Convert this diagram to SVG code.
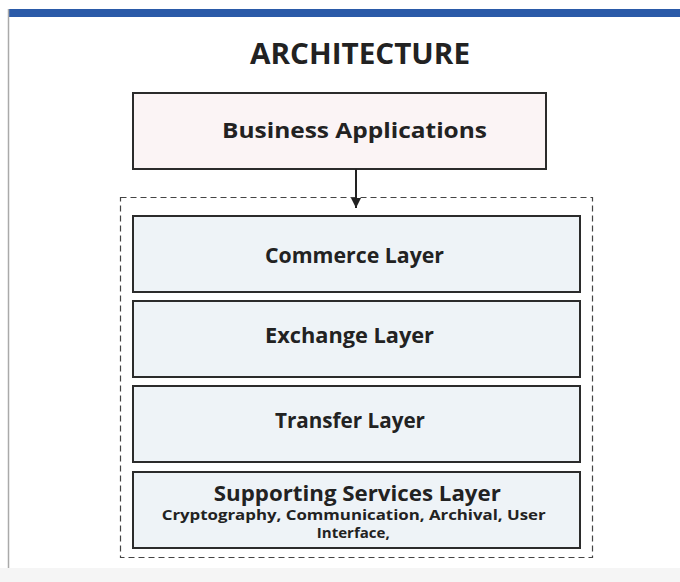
<svg xmlns="http://www.w3.org/2000/svg" width="680" height="582" viewBox="0 0 680 582">
<defs>
<style>
text{font-family:"Open Sans","Noto Sans","DejaVu Sans",sans-serif;font-weight:bold;fill:#222;text-anchor:middle}
.layer{fill:#eef3f7;stroke:#2b2b2b;stroke-width:2}
.title{font-size:28px}
.lbl{font-size:20.5px}
.sub{font-size:14.5px}
</style>
<marker id="ah" viewBox="0 0 10 10" refX="10" refY="5" markerWidth="10" markerHeight="10" markerUnits="userSpaceOnUse" orient="auto">
<path d="M0,0 L10,5 L0,10 z" fill="#222"/>
</marker>
</defs>
<rect x="0" y="0" width="680" height="582" fill="#ffffff"/>
<rect x="0" y="568" width="680" height="14" fill="#f5f5f5"/>
<rect x="8" y="9" width="672" height="8" fill="#2a5aa8"/>
<line x1="8.5" y1="9" x2="8.5" y2="568" stroke="#aaaaaa" stroke-width="1.5"/>
<g id="title"><text class="title" x="360" y="64" textLength="220" lengthAdjust="spacingAndGlyphs">ARCHITECTURE</text></g>
<g id="business">
<rect x="133" y="93" width="413" height="76" fill="#fbf4f5" stroke="#2b2b2b" stroke-width="2"/>
<text class="lbl" x="354.5" y="138" style="font-size:22px" textLength="265" lengthAdjust="spacingAndGlyphs">Business Applications</text>
</g>
<g id="container">
<rect x="120.5" y="197.5" width="472" height="360" fill="none" stroke="#444" stroke-width="1.2" stroke-dasharray="6,4"/>
</g>
<g id="commerce">
<rect class="layer" x="133" y="216" width="447" height="76"/>
<text class="lbl" x="354.5" y="262.5" textLength="179" lengthAdjust="spacingAndGlyphs">Commerce Layer</text>
</g>
<g id="exchange">
<rect class="layer" x="133" y="301" width="447" height="76"/>
<text class="lbl" x="349.5" y="343.3" textLength="169" lengthAdjust="spacingAndGlyphs">Exchange Layer</text>
</g>
<g id="transfer">
<rect class="layer" x="133" y="386" width="447" height="76"/>
<text class="lbl" x="350" y="427.7" textLength="150" lengthAdjust="spacingAndGlyphs">Transfer Layer</text>
</g>
<g id="supporting">
<rect class="layer" x="133" y="472" width="447" height="76"/>
<text class="lbl" x="357.3" y="500.7" textLength="287" lengthAdjust="spacingAndGlyphs">Supporting Services Layer</text>
<text class="sub" x="353.7" y="519.7" textLength="384" lengthAdjust="spacingAndGlyphs">Cryptography, Communication, Archival, User</text>
<text class="sub" x="353.3" y="537.5" textLength="73" lengthAdjust="spacingAndGlyphs">Interface,</text>
</g>
<g id="connectors">
<line x1="356" y1="169" x2="356" y2="208" stroke="#222" stroke-width="2" marker-end="url(#ah)"/>
</g>
</svg>
